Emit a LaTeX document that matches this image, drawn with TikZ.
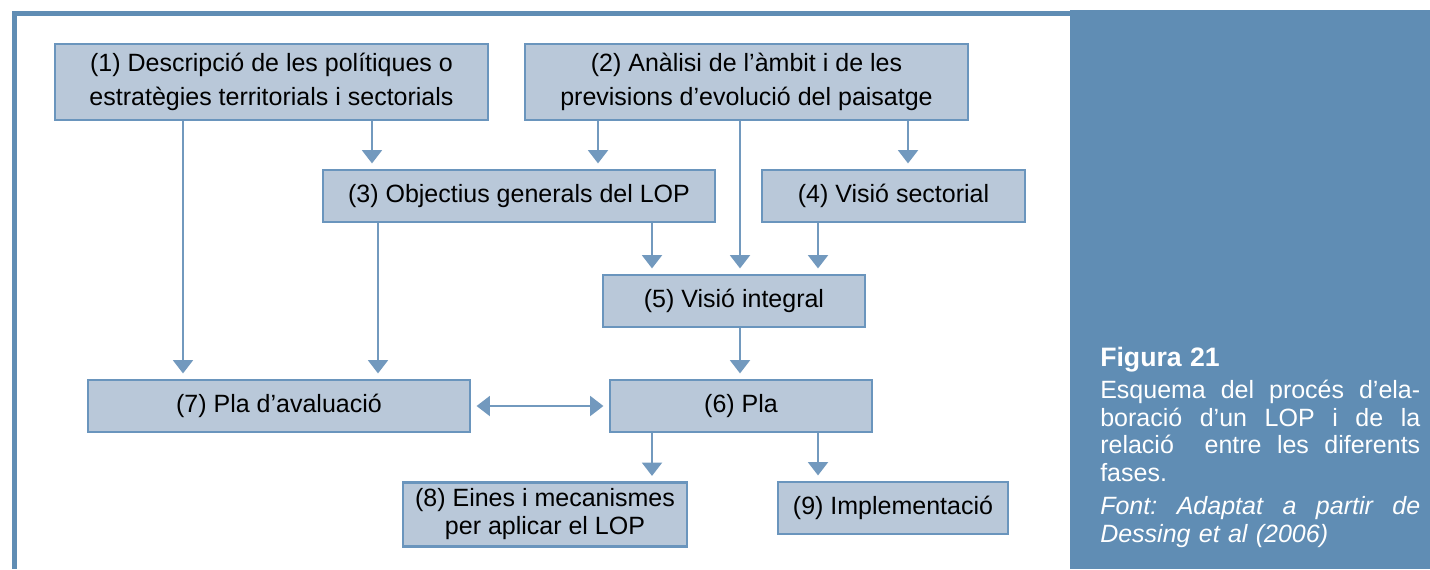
\documentclass[tikz,border=0pt]{standalone}
\usepackage{fontspec}
\setmainfont{Liberation Sans}
\usetikzlibrary{arrows.meta}
\definecolor{frameblue}{RGB}{96,141,180}
\definecolor{boxfill}{RGB}{185,200,217}
\definecolor{boxline}{RGB}{106,149,189}
\definecolor{arrowblue}{RGB}{114,153,190}
\newlength\capw
\setlength\capw{240pt}

\begin{document}
\begin{tikzpicture}[x=0.75pt,y=0.75pt,yscale=-1,xscale=1,
  phase/.style={draw=boxline,line width=1.9pt,fill=boxfill,inner sep=0pt,align=center,
    font=\fontsize{18.75}{22.5}\selectfont},
  flow/.style={draw=arrowblue,line width=1.5pt,-{Triangle[width=15pt,length=10pt]},shorten >=4pt}]
\useasboundingbox (0,0) rectangle (1430,569);

%Shape: Frame
\fill[white] (0,0) rectangle (1430,569);
\fill[frameblue] (12,11) rectangle (1070,16);
\fill[frameblue] (12,11) rectangle (17,569);
\fill[frameblue] (1070,10) rectangle (1430,569);

%Phases
\node[phase,minimum width=324.75pt,minimum height=57pt,font=\fontsize{18.75}{25.5}\selectfont] (n1) at (271.5,82) {(1) Descripció de les polítiques o\\estratègies territorials i sectorials};
\node[phase,minimum width=332.25pt,minimum height=57pt,font=\fontsize{18.75}{25.5}\selectfont] (n2) at (746.5,82) {(2) Anàlisi de l’àmbit i de les\\previsions d’evolució del paisatge};
\node[phase,minimum width=294pt,minimum height=39pt] (n3) at (519,196) {(3) Objectius generals del LOP};
\node[phase,minimum width=197.25pt,minimum height=39pt] (n4) at (893.5,196) {(4) Visió sectorial};
\node[phase,minimum width=196.5pt,minimum height=39pt] (n5) at (734,301) {(5) Visió integral};
\node[phase,minimum width=196.5pt,minimum height=39pt] (n6) at (741,406) {(6) Pla};
\node[phase,minimum width=286.5pt,minimum height=39pt] (n7) at (279,406) {(7) Pla d’avaluació};
\node[phase,minimum width=213pt,minimum height=48pt,font=\fontsize{18.75}{21}\selectfont] (n8) at (545,514.5) {(8) Eines i mecanismes\\per aplicar el LOP};
\node[phase,minimum width=172.5pt,minimum height=39pt] (n9) at (893,508) {(9) Implementació};

%Arrows
\draw[flow] (372,0 |- n1.south) -- (372,0 |- n3.north);
\draw[flow] (598,0 |- n2.south) -- (598,0 |- n3.north);
\draw[flow] (908,0 |- n2.south) -- (908,0 |- n4.north);
\draw[flow] (183,0 |- n1.south) -- (183,0 |- n7.north);
\draw[flow] (378,0 |- n3.south) -- (378,0 |- n7.north);
\draw[flow] (652,0 |- n3.south) -- (652,0 |- n5.north);
\draw[flow] (740,0 |- n2.south) -- (740,0 |- n5.north);
\draw[flow] (818,0 |- n4.south) -- (818,0 |- n5.north);
\draw[flow] (740,0 |- n5.south) -- (740,0 |- n6.north);
\draw[flow,shorten <=4pt,{Triangle[width=15pt,length=10pt]}-{Triangle[width=15pt,length=10pt]}] (n7.east) -- (n6.west);
\draw[flow] (652,0 |- n6.south) -- (652,0 |- n8.north);
\draw[flow] (818,0 |- n6.south) -- (818,0 |- n9.north);

% Text Node
\node[anchor=north west,inner sep=0pt,text=white,text width=\capw,align=left,
  font=\fontsize{18.75}{20.6}\selectfont] (cap) at (1100,347)
  {{\bfseries\fontsize{20}{20.6}\selectfont Figura 21}\\[3.5pt]
   \makebox[\capw][s]{Esquema\hfill del\hfill procés\hfill d’ela-}\\
   \makebox[\capw][s]{boració\hfill d’un\hfill LOP\hfill i\hfill de\hfill la}\\
   \makebox[\capw][s]{relació\hfill\hfill entre\hfill les\hfill diferents}\\
   fases.\\[4.5pt]
   \makebox[\capw][s]{\itshape Font:\hfill Adaptat\hfill a\hfill partir\hfill de}\\
   {\itshape Dessing et al (2006)}};

\end{tikzpicture}
\end{document}
